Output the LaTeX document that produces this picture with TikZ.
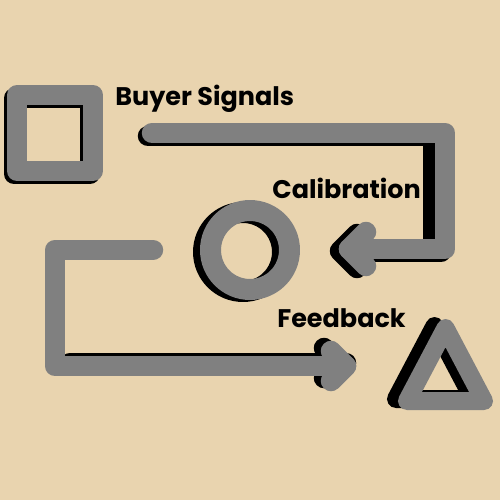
\documentclass[tikz,border=0pt]{standalone}
\usepackage{fontspec}
\setmainfont{Poppins}
\usetikzlibrary{positioning}

\definecolor{sand}{RGB}{233,212,175}
\definecolor{slate}{RGB}{128,128,128}

\begin{document}
\begin{tikzpicture}[
    x=0.02cm, y=-0.02cm,
    icon/.style={
        draw=slate,
        line width=0.4cm,
        line join=round,
        inner sep=0pt, outer sep=0pt
    },
    ghost/.style={
        draw=black,
        line width=0.4cm,
        line join=round,
        inner sep=0pt, outer sep=0pt
    },
    flow/.style={draw=slate, line width=0.41cm, line cap=round, line join=round},
    flowshade/.style={draw=black, line width=0.41cm, line cap=round, line join=round},
    caption/.style={font=\bfseries\fontsize{14.5}{17}\selectfont, inner sep=0pt, anchor=base west}
]

% Background
\fill[sand] (0,0) rectangle (500,500);

% Points
\coordinate (out1) at (152,133);
\coordinate (turn1) at (445,133);
\coordinate (tip1) at (349,249);
\coordinate (barb1a) at (366,232);
\coordinate (barb1b) at (366,266);
\coordinate (out2) at (153,250);
\coordinate (turn2) at (55,250);
\coordinate (bend2) at (55,366);
\coordinate (tip2) at (346,366);
\coordinate (barb2a) at (331,351);
\coordinate (barb2b) at (331,381);
\coordinate (apex) at (445.5,328);
\coordinate (foot1) at (407,401);
\coordinate (foot2) at (484,401);

% Shadows
\node[ghost, minimum size=1.52cm, xshift=-0.06cm, yshift=-0.06cm] (signalsshade) at (55,133) {};
\node[ghost, circle, minimum size=1.58cm, line width=0.42cm, xshift=-0.14cm, yshift=-0.04cm] (calibshade) at (250,250) {};
\draw[ghost, line width=0.36cm, transform canvas={xshift=-0.22cm, yshift=0.04cm}] (apex) -- (foot1) -- (foot2) -- cycle;
\draw[flowshade, transform canvas={xshift=-0.08cm, yshift=-0.06cm}] (out1) -- (turn1) |- (tip1);
\draw[flowshade, transform canvas={xshift=-0.24cm, yshift=-0.04cm}] (turn1) -- (turn1 |- tip1);
\draw[flowshade, transform canvas={xshift=-0.18cm, yshift=-0.04cm}] (barb1a) -- (tip1) -- (barb1b);
\draw[flowshade, transform canvas={yshift=0.06cm}] ([xshift=0.3cm]bend2) -- (tip2);
\draw[flowshade, transform canvas={xshift=-0.14cm, yshift=0.06cm}] (barb2a) -- (tip2) -- (barb2b);

% Icons
\node[icon, minimum size=1.52cm] (signals) at (55,133) {};
\node[icon, circle, minimum size=1.58cm, line width=0.42cm] (calib) at (250,250) {};
\draw[icon, line width=0.36cm] (apex) -- (foot1) -- (foot2) -- cycle;

% Arrows
\draw[flow] (out1) -- (turn1) |- (tip1);
\draw[flow] (barb1a) -- (tip1) -- (barb1b);
\draw[flow] (out2) -- (turn2) |- (tip2);
\draw[flow] (barb2a) -- (tip2) -- (barb2b);

% Labels
\node[caption] (buyer) at (115,106) {Buyer Signals};
\node[caption] (calibration) at (272,198) {Calibration};
\node[caption] (feedback) at (277,327) {Feedback};
\end{tikzpicture}
\end{document}
